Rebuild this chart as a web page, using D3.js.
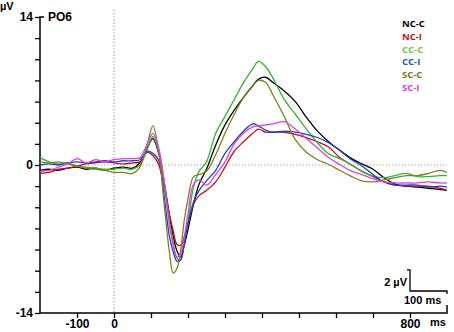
<!DOCTYPE html>
<html>
<head>
<meta charset="utf-8">
<script src="https://cdn.jsdelivr.net/npm/d3@7"></script>
<style>
body { margin: 0; background: #fff; }
text { font-family: "Liberation Sans", Arial, sans-serif; font-weight: bold; }
.leg { font-family: "Open Sans", "Liberation Sans", sans-serif; }
</style>
</head>
<body>
<div id="chart"></div>
<script>
// time points (ms) shared by every condition
const times = [-200, -175, -150, -125, -100, -75, -50, -25, 0, 25, 50, 70, 90, 105, 120, 135, 150, 160, 170, 180, 190, 200, 215, 230, 250, 275, 300, 325, 350, 375, 390, 410, 430, 460, 490, 520, 550, 580, 610, 640, 670, 700, 730, 760, 790, 820, 850, 880, 900];

const conditions = ['NC-C', 'NC-I', 'CC-C', 'CC-I', 'SC-C', 'SC-I'];
const colors = ['#000000', '#c0121e', '#2fb52f', '#1f3fc8', '#808022', '#e23ee2'];
const legendColors = ['#000000', '#c0121e', '#7cc242', '#1a5aa8', '#6b7a2a', '#e23ecf'];

const ncC = [-0.5, -0.4, -0.5, -0.3, -0.2, -0.4, -0.3, -0.5, -0.3, -0.2, -0.3, 0.2, 1.6, 2.5, 1.2, -1.5, -4.8, -6.7, -8.1, -8.7, -7.6, -6.1, -3.7, -1.8, -0.4, 1.9, 3.8, 5.2, 6.4, 7.5, 8.1, 8.3, 7.8, 7.0, 6.0, 4.5, 3.2, 2.2, 1.4, 0.65, 0.1, -0.4, -1.2, -1.8, -2.0, -2.1, -2.2, -2.3, -2.4];
const ncI = [-0.8, -0.7, -0.4, -0.3, -0.1, 0.1, 0.2, 0.3, 0.2, 0.1, 0.2, 0.3, 1.2, 0.9, 0.1, -2.0, -4.7, -6.2, -7.5, -7.6, -6.8, -5.6, -3.7, -2.9, -2.4, -1.6, -0.2, 1.3, 2.2, 3.0, 3.4, 3.1, 3.1, 3.1, 2.9, 2.6, 2.2, 1.7, 0.7, 0.05, -0.6, -1.1, -1.6, -1.9, -2.0, -2.0, -2.0, -2.2, -2.4];
const ccC = [0.7, 0.3, 0.1, 0.2, -0.1, -0.2, -0.3, -0.4, -0.4, -0.3, -0.4, 0.0, 1.5, 2.7, 1.3, -1.8, -5.3, -7.4, -8.8, -9.0, -7.4, -5.4, -2.1, -0.6, 0.3, 3.0, 4.6, 6.2, 7.8, 9.1, 9.8, 9.3, 8.2, 6.2, 4.8, 3.4, 2.1, 1.05, 0.6, 0.05, -0.6, -1.05, -1.2, -1.0, -0.8, -1.1, -1.1, -1.0, -1.0];
const ccI = [0.0, 0.1, 0.0, 0.2, 0.3, 0.2, 0.3, 0.4, 0.3, 0.4, 0.4, 0.5, 1.3, 1.1, 0.5, -2.8, -6.8, -8.2, -9.1, -9.0, -7.3, -5.5, -3.5, -2.4, -1.5, -0.5, 1.1, 2.2, 3.2, 3.9, 3.7, 3.3, 3.1, 3.2, 3.1, 2.9, 2.6, 2.1, 1.4, 0.55, -0.1, -0.9, -1.6, -1.9, -1.9, -1.9, -2.1, -2.0, -2.1];
const scC = [0.3, 0.2, 0.3, 0.1, -0.1, -0.3, -0.4, -0.5, -0.7, -0.7, -0.8, -0.2, 2.0, 3.7, 1.5, -3.5, -8.3, -10.2, -9.8, -8.1, -5.2, -3.2, -1.1, -0.9, -0.6, 1.0, 3.0, 4.8, 6.4, 7.5, 8.0, 7.8, 6.6, 4.6, 2.4, 1.2, 0.5, 0.05, -0.5, -1.05, -1.5, -1.6, -1.4, -1.2, -1.0, -1.0, -0.8, -0.5, -0.7];
const scI = [-0.6, -0.5, -0.2, 0.1, 0.6, 0.2, 0.5, 0.3, 0.5, 0.6, 0.6, 0.7, 2.0, 3.0, 1.7, -1.3, -5.7, -7.6, -8.7, -8.4, -6.8, -4.6, -1.8, -1.4, -1.9, -0.9, 0.3, 2.0, 3.0, 3.6, 3.7, 3.8, 3.9, 4.1, 3.4, 2.5, 1.6, 0.7, 0.05, -0.55, -0.9, -1.3, -1.6, -1.7, -1.7, -1.7, -1.6, -1.7, -1.7];

const series = [ncC, ncI, ccC, ccI, scC, scI];

const yTicks = [-14, -12, -10, -8, -6, -4, -2, 0, 2, 4, 6, 8, 10, 12, 14];
const yLabels = [-14, 0, 14];
const xTicks = [-100, 0, 100, 200, 300, 400, 500, 600, 700, 800];
const xLabels = [-100, 0, 800];

const w = 454;
const h = 332;

const xScale = d3.scaleLinear().domain([-200, 900]).range([40, 447]);
const yScale = d3.scaleLinear().domain([-14, 14]).range([313, 17]);

const svg = d3.select('#chart')
	.append('svg')
	.attr('width', w)
	.attr('height', h);

// zero reference lines
svg.append('line')
	.attr('x1', xScale(0)).attr('x2', xScale(0))
	.attr('y1', 10).attr('y2', yScale(-14))
	.attr('stroke', '#999').attr('stroke-width', 1.2)
	.attr('stroke-dasharray', '1.2,2');

svg.append('line')
	.attr('x1', xScale(-200)).attr('x2', xScale(900))
	.attr('y1', yScale(0)).attr('y2', yScale(0))
	.attr('stroke', '#999').attr('stroke-width', 1.2)
	.attr('stroke-dasharray', '1.2,2');

// y axis
const yAxis = d3.axisLeft(yScale)
	.tickValues(yTicks)
	.tickSize(5)
	.tickFormat(d => yLabels.includes(d) ? d : '');

const gy = svg.append('g')
	.attr('id', 'y-axis')
	.attr('transform', 'translate(40, 0)')
	.call(yAxis);
gy.select('.domain').remove();
gy.selectAll('.tick line').attr('stroke', '#000').attr('stroke-width', 1.3);
gy.selectAll('.tick text')
	.attr('x', -7)
	.style('font-size', '12px')
	.style('font-weight', 'bold')
	.style('font-family', '"Liberation Sans", Arial, sans-serif');

svg.append('path')
	.attr('d', `M${xScale(-200) + 4},${yScale(14)}H${xScale(-200)}V${yScale(-14)}`)
	.attr('fill', 'none').attr('stroke', '#000').attr('stroke-width', 1.5);

// x axis
const xAxis = d3.axisBottom(xScale)
	.tickValues(xTicks)
	.tickSize(5)
	.tickFormat(d => xLabels.includes(d) ? d : '');

const gx = svg.append('g')
	.attr('id', 'x-axis')
	.attr('transform', `translate(0, ${yScale(-14)})`)
	.call(xAxis);
gx.select('.domain').remove();
gx.selectAll('.tick line').attr('stroke', '#000').attr('stroke-width', 1.3);
gx.selectAll('.tick text')
	.attr('y', 6)
	.style('font-size', '12px')
	.style('font-weight', 'bold')
	.style('font-family', '"Liberation Sans", Arial, sans-serif');

svg.append('path')
	.attr('d', `M${xScale(-200)},${yScale(-14)}H${xScale(900)}V${yScale(-14) - 8}`)
	.attr('fill', 'none').attr('stroke', '#000').attr('stroke-width', 1.5);

// curves
const line = d3.line()
	.x((d, i) => xScale(times[i]))
	.y(d => yScale(d))
	.curve(d3.curveCatmullRom.alpha(0.5));

svg.selectAll('.wave')
	.data(series)
	.enter()
	.append('path')
	.attr('class', 'wave')
	.attr('d', d => line(d))
	.attr('fill', 'none')
	.attr('stroke', (d, i) => colors[i])
	.attr('stroke-width', 1.3);

// labels
svg.append('text').attr('x', 0).attr('y', 10).style('font-size', '11px').text('µV');
svg.append('text').attr('x', 48).attr('y', 21).style('font-size', '12px').text('PO6');
svg.append('text').attr('x', 430).attr('y', 326).style('font-size', '11px').text('ms');

// legend
svg.selectAll('.leg')
	.data(conditions)
	.enter()
	.append('text')
	.attr('class', 'leg')
	.attr('x', 402)
	.attr('y', (d, i) => 27 + i * 12.8)
	.style('font-size', '9.5px')
	.style('fill', (d, i) => legendColors[i])
	.text(d => d);

// scale bar: 2 µV by 100 ms
const barX = xScale(800);
const barY = 291;
svg.append('path')
	.attr('d', `M${barX - 3},${barY - (yScale(0) - yScale(2))}H${barX}V${barY}H${barX + (xScale(100) - xScale(0))}V${barY + 3}`)
	.attr('fill', 'none').attr('stroke', '#000').attr('stroke-width', 1.3);
svg.append('text').attr('x', barX - 3).attr('y', 286).attr('text-anchor', 'end').style('font-size', '11px').text('2 µV');
svg.append('text').attr('x', barX - 6).attr('y', 304).style('font-size', '11px').text('100 ms');
</script>
</body>
</html>
